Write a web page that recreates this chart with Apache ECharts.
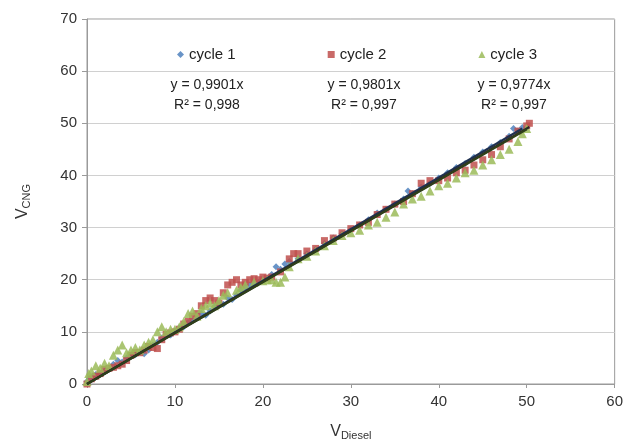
<!DOCTYPE html>
<html><head><meta charset="utf-8">
<script src="https://cdn.jsdelivr.net/npm/echarts@6/dist/echarts.min.js"></script>
<style>html,body{margin:0;padding:0;background:#fff}#c{width:626px;height:448px}</style>
</head><body><div id="c"></div>
<script>
const seriesNames = ['cycle 1', 'cycle 2', 'cycle 3'];
const xTicks = [0, 10, 20, 30, 40, 50, 60];
const yTicks = [0, 10, 20, 30, 40, 50, 60, 70];
const slopes = [0.9901, 0.9801, 0.9774];
const r2 = ['0,998', '0,997', '0,997'];
const trendEnd = [49.5, 50.3, 50];

const cycle1 = [[0,0.5],[0.3,1],[0.6,1.5],[1,1.8],[1.5,2],[2,2.5],[2.5,3],[3,3.8],[3.5,4.5],[4,4.2],[4.5,5],[5,5.5],[5.5,5.6],[6,6.2],[6.5,5.8],[7,6.5],[7.5,7.5],[8,8],[8.5,8.8],[9,9.5],[9.5,9.4],[10,10.2],[10.5,10.8],[11,11],[11.5,11.8],[12,12.2],[12.5,12.6],[13,13.5],[13.5,13.2],[14,14],[14.5,14.8],[15,15.2],[15.5,15.3],[16,16.5],[16.5,16.2],[17,17],[17.5,18],[18,18.5],[18.5,19],[19,19.3],[19.5,19.5],[20,20],[20.5,20.3],[21,21],[21.5,22.5],[22,22],[22.5,23],[23,23.5],[24,24],[25,25],[26,25.8],[27,27],[28,28],[29,28.8],[30,29.6],[31,30.5],[32,31.5],[33,32.8],[34,33.5],[35,34.5],[36,35.5],[36.5,37],[37,36.5],[38,37.8],[39,38.5],[40,39.5],[41,40.5],[42,41.5],[43,42.3],[44,43.5],[45,44.5],[46,45.5],[47,46.3],[48,47.5],[48.5,49],[49,48.5],[49.5,49.2]];
const cycle2 = [[0,0],[0.5,1],[1,1.5],[1.5,2],[2,2.8],[2.5,3],[3,3.2],[3.5,3.5],[4,3.8],[4.5,4.5],[5,5.5],[5.5,6],[6,6],[6.5,6.5],[7,7.2],[7.5,7],[8,6.8],[8.5,8.5],[9,9.5],[9.5,9.8],[10,10],[10.5,10.5],[11,11.5],[11.5,12],[12,13],[12.5,13.5],[13,15],[13.5,16],[14,16.5],[14.5,16],[15,15.5],[15.5,17.5],[16,19],[16.5,19.5],[17,20],[17.5,19],[18,19.5],[18.5,20],[19,20.2],[19.5,20],[20,20.5],[20.5,20.3],[21,20.5],[22,21.5],[23,24],[23.5,25],[24,25],[25,25.5],[26,26],[27,27.5],[28,28],[29,29],[30,29.8],[31,30.5],[32,31],[33,32.5],[34,33.5],[35,34.5],[36,35],[37,36.5],[38,38.5],[39,39],[40,39],[41,39.5],[42,40.5],[43,41],[44,42],[45,43],[46,44],[47,45.5],[48,47],[49,48.5],[50,49.5],[50.3,50]];
const cycle3 = [[0,0.5],[0.2,2],[0.5,2.5],[1,3.5],[1.5,3],[2,4],[2.5,3.5],[3,5.5],[3.5,6.5],[4,7.5],[4.5,6],[5,6.5],[5.5,7],[6,6.5],[6.5,7.5],[7,8],[7.5,8.5],[8,10],[8.5,11],[9,10],[9.5,10.5],[10,10.5],[10.5,11],[11,12],[11.5,13.5],[12,14],[12.5,13],[13,14.5],[13.5,15],[14,15.5],[14.5,15],[15,16],[15.5,17],[16,17.5],[17,18],[17.5,18.5],[18,19],[19,19.5],[20,19.8],[20.5,20],[21,20],[21.5,19.5],[22,19.5],[22.5,20.5],[23,22.5],[24,24],[25,24.5],[26,25.5],[27,26.5],[28,27.5],[29,28.5],[30,29],[31,29.5],[32,30.5],[33,31],[34,32],[35,33],[36,34.5],[37,35.5],[38,36],[39,37],[40,38],[41,38.5],[42,39.5],[43,40.5],[44,41],[45,42],[46,43],[47,44],[48,45],[49,46.5],[49.5,48],[50,49]];

const colors = ['#4f81bd', '#c0504d', '#9bbb59'];
const symbols = ['diamond', 'rect', 'triangle'];
const trendColors = ['#1f3050', '#2a2a2a', '#2f3f1a'];
const cycles = [cycle1, cycle2, cycle3];
const eqX = [207, 364, 514];

const chart = echarts.init(document.getElementById('c'), null, {renderer: 'canvas'});
const series = [];
cycles.forEach((d, i) => {
  series.push({
    name: seriesNames[i], type: 'scatter', data: d,
    symbol: symbols[i], symbolSize: i === 2 ? 9 : 7,
    itemStyle: {color: colors[i], opacity: 0.85}, z: 2
  });
});
cycles.forEach((d, i) => {
  series.push({
    name: 'trend' + i, type: 'line', showSymbol: false, symbol: 'none',
    data: [[0, 0], [trendEnd[i], slopes[i] * trendEnd[i]]],
    lineStyle: {color: trendColors[i], width: 2.2}, z: 5, silent: true
  });
});

const graphics = [];
slopes.forEach((s, i) => {
  graphics.push({type: 'text', x: eqX[i], y: 78,
    style: {text: 'y = ' + String(s).replace('.', ',') + 'x', font: '14px Arial, "Liberation Sans"', fill: '#222', textAlign: 'center'}});
  graphics.push({type: 'text', x: eqX[i], y: 98,
    style: {text: 'R² = ' + r2[i], font: '14px Arial, "Liberation Sans"', fill: '#222', textAlign: 'center'}});
});

chart.setOption({
  backgroundColor: '#fff',
  animation: false,
  grid: {left: 87, top: 19, right: 11, bottom: 64, show: true, borderColor: '#9a9a9a', borderWidth: 1},
  legend: {
    data: seriesNames.map((n, i) => ({name: n, icon: symbols[i]})),
    left: 172, top: 42, itemWidth: 7, itemHeight: 7, itemGap: 92,
    textStyle: {fontSize: 15, fontFamily: 'Arial, "Liberation Sans"', color: '#222'}
  },
  xAxis: {
    type: 'value', min: 0, max: 60, interval: 10,
    name: '{v|V}{s|Diesel}', nameLocation: 'middle', nameGap: 38,
    nameTextStyle: {rich: {v: {fontSize: 16, fontFamily: 'Arial, "Liberation Sans"', color: '#333'}, s: {fontSize: 11, fontFamily: 'Arial, "Liberation Sans"', color: '#333', padding: [8, 0, 0, 0]}}},
    axisLine: {show: true, lineStyle: {color: '#9a9a9a'}},
    axisTick: {show: true, inside: false, length: 4, lineStyle: {color: '#9a9a9a'}},
    axisLabel: {fontSize: 15, fontFamily: 'Arial, "Liberation Sans"', color: '#333', margin: 10},
    splitLine: {show: false}
  },
  yAxis: {
    type: 'value', min: 0, max: 70, interval: 10,
    name: '{v|V}{s|CNG}', nameLocation: 'middle', nameGap: 55, nameRotate: 90,
    nameTextStyle: {rich: {v: {fontSize: 16, fontFamily: 'Arial, "Liberation Sans"', color: '#333'}, s: {fontSize: 11, fontFamily: 'Arial, "Liberation Sans"', color: '#333', padding: [8, 0, 0, 0]}}},
    axisLine: {show: true, lineStyle: {color: '#9a9a9a'}},
    axisTick: {show: true, inside: false, length: 5, lineStyle: {color: '#9a9a9a'}},
    axisLabel: {fontSize: 15, fontFamily: 'Arial, "Liberation Sans"', color: '#333', margin: 10},
    splitLine: {show: true, lineStyle: {color: '#d0d0d0', width: 1}}
  },
  graphic: graphics,
  series: series
});
</script></body></html>
